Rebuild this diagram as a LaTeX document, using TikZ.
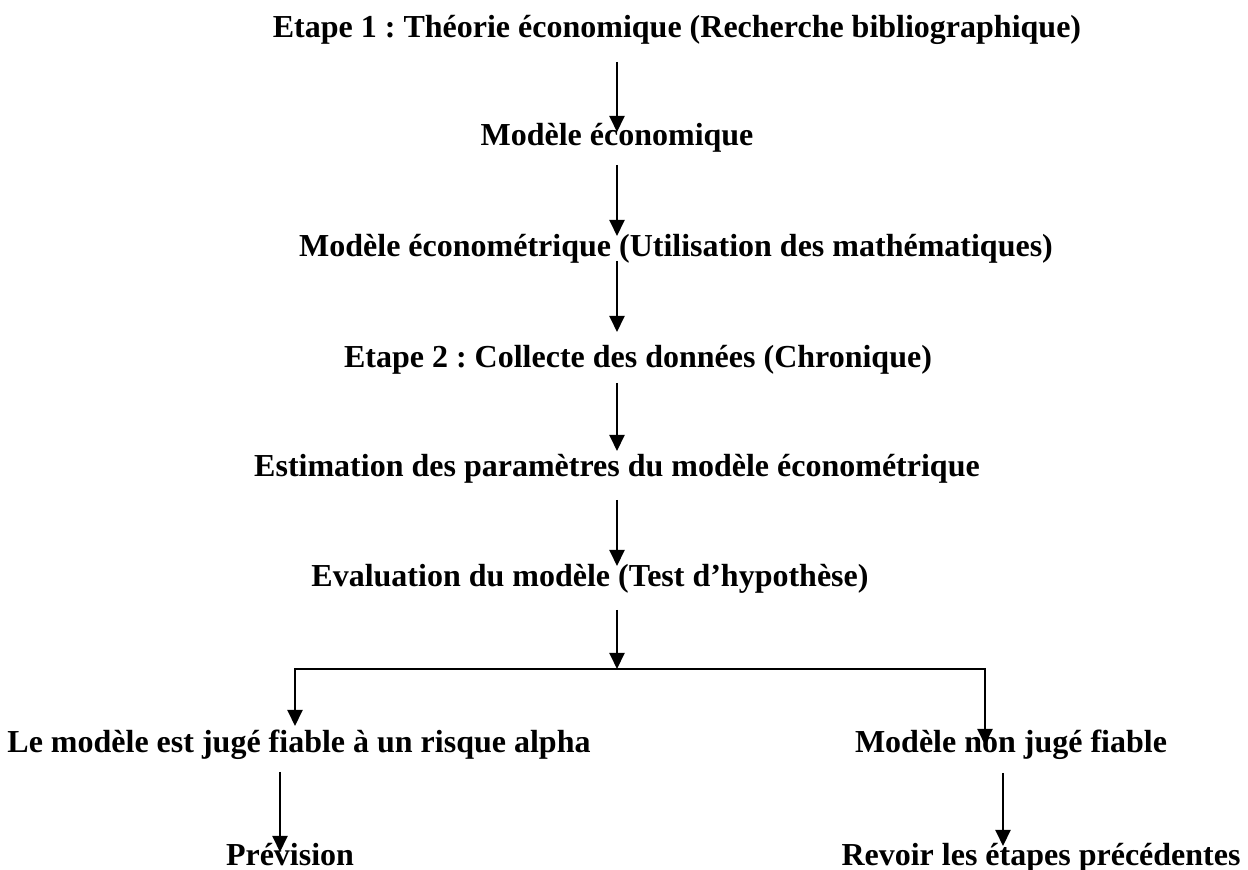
\documentclass[tikz,border=0pt]{standalone}
\usepackage{fontspec}
\setmainfont{Liberation Serif}
\usetikzlibrary{arrows.meta,calc}
\begin{document}
\frenchspacing
\begin{tikzpicture}[x=0.5pt,y=-0.5pt,
  lbl/.style={anchor=base,inner sep=0pt,font=\fontsize{16}{19}\selectfont\bfseries},
  arr/.style={line width=1pt,-{Triangle[width=7.5pt,length=8pt]}}]
\useasboundingbox (0,0) rectangle (1248,870);

% text of each stage, placed on its baseline
\node[lbl] (t1) at (677,38)  {Etape 1 : Théorie économique (Recherche bibliographique)};
\node[lbl] (t2) at (617,146) {Modèle économique};
\node[lbl] (t3) at (676,257) {Modèle économétrique (Utilisation des mathématiques)};
\node[lbl] (t4) at (638,368) {Etape 2 : Collecte des données (Chronique)};
\node[lbl] (t5) at (617,477) {Estimation des paramètres du modèle économétrique};
\node[lbl] (t6) at (590,587) {Evaluation du modèle (Test d’hypothèse)};
\node[lbl] (t7) at (299,753) {Le modèle est jugé fiable à un risque alpha};
\node[lbl] (t8) at (1011,753) {Modèle non jugé fiable};
\node[lbl] (t9) at (290,866) {Prévision};
\node[lbl] (t10) at (1041,866) {Revoir les étapes précédentes};

% vertical spine and fork point
\coordinate (spine) at (617,0);
\coordinate (fork) at (617,669);

\draw[arr] ($(t1.base -| spine)+(0,24)$) -- ($(t2.base -| spine)+(0,-14)$);
\draw[arr] ($(t2.base -| spine)+(0,19)$) -- ($(t3.base -| spine)+(0,-21)$);
\draw[arr] ($(t3.base -| spine)+(0,4)$)  -- ($(t4.base -| spine)+(0,-36)$);
\draw[arr] ($(t4.base -| spine)+(0,15)$) -- ($(t5.base -| spine)+(0,-26)$);
\draw[arr] ($(t5.base -| spine)+(0,23)$) -- ($(t6.base -| spine)+(0,-21)$);
\draw[arr] ($(t6.base -| spine)+(0,23)$) -- (fork);

% branches to the two outcomes
\draw[arr] (fork) -| ($(t7.base)+(-4,-27)$);
\draw[arr] (fork) -| ($(t8.base)+(-26,-8)$);

% final steps
\draw[arr] ($(t7.base)+(-19,19)$) -- ($(t9.base)+(-10,-14)$);
\draw[arr] ($(t8.base)+(-8,20)$) -- ($(t10.base)+(-38,-20)$);
\end{tikzpicture}
\end{document}
